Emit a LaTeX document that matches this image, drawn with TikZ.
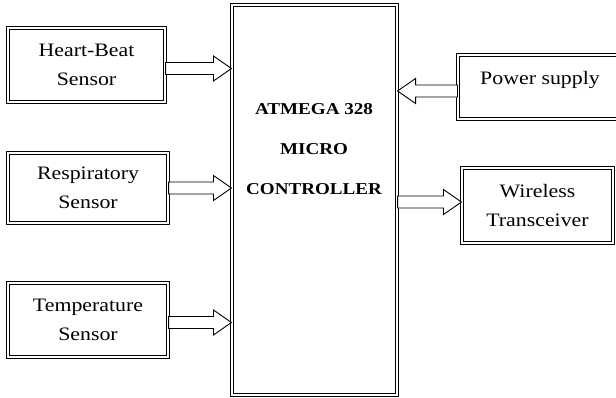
\documentclass[tikz,border=0pt]{standalone}
\usepackage{fontspec}
\setmainfont{Liberation Serif}[FakeStretch=1.15]
\usetikzlibrary{calc}
\begin{document}
\begin{tikzpicture}[x=1pt,y=-1pt,
  box/.style={draw, double, double distance=1.5pt, line width=1.1pt, align=center,
    font=\fontsize{19}{29}\selectfont, inner sep=0pt},
  txt/.style={font=\fontsize{19}{29}\selectfont, inner sep=0pt},
  mcutxt/.style={font=\fontsize{16.6}{40}\selectfont\bfseries, align=center, inner sep=0pt},
  barrow/.style={draw, fill=white, line width=0.9pt, line join=miter,
    to path={let \p1=(\tikztostart), \p2=(\tikztotarget), \n1={sign(\x2-\x1)} in
      (\x1,\y1+6pt) -- (\x2-\n1*18pt,\y1+6pt) -- (\x2-\n1*18pt,\y1+12.5pt) -- (\x2,\y1)
      -- (\x2-\n1*18pt,\y1-12.5pt) -- (\x2-\n1*18pt,\y1-6pt) -- (\x1,\y1-6pt) -- cycle}}]
\useasboundingbox (0,0) rectangle (616,397);
\clip (0,0) rectangle (616,397);

\node[box, minimum width=157pt, minimum height=74pt] (hb) at (86.5,65) {Heart-Beat\\Sensor};
\node[box, minimum width=160pt, minimum height=70pt] (rs) at (88,188) {Respiratory\\Sensor};
\node[box, minimum width=160pt, minimum height=74pt] (ts) at (88,320) {Temperature\\Sensor};
\node[box, minimum width=165pt, minimum height=390pt] (mcu) at (314.5,200) {};
\node[mcutxt] (mcut) at (314,149) {ATMEGA 328\\MICRO\\CONTROLLER};
\node[box, minimum width=167pt, minimum height=64pt] (ps) at (541.5,87) {};
\node[txt, anchor=base] (pst) at (540,84) {Power supply};
\node[box, minimum width=151pt, minimum height=75pt] (wl) at (537.5,205.5) {Wireless\\Transceiver};

\coordinate (wlA) at ([yshift=3.5pt]wl.west);
\draw[barrow] ([yshift=-3.5pt]hb.east) to (mcu.west);
\draw[barrow] (rs.east) to (mcu.west);
\draw[barrow] ([yshift=-2.5pt]ts.east) to (mcu.west);
\draw[barrow] ([yshift=-4pt]ps.west) to (mcu.east);
\draw[barrow] (mcu.east |- wlA) to (wlA);
\end{tikzpicture}
\end{document}
